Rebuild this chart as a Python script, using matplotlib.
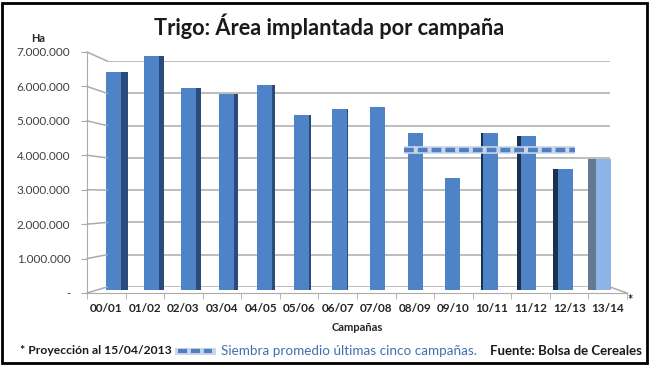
import numpy as np
import matplotlib
matplotlib.use("Agg")
import matplotlib.pyplot as plt
from matplotlib.lines import Line2D
from matplotlib.patches import Rectangle
from matplotlib.ticker import FuncFormatter, MultipleLocator

plt.rcParams['font.family'] = ['Lato', 'DejaVu Sans']

# --- data (hectareas sembradas por campaña) ---
campanas = ['00/01', '01/02', '02/03', '03/04', '04/05', '05/06', '06/07',
            '07/08', '08/09', '09/10', '10/11', '11/12', '12/13', '13/14']
area_ha = [6530000, 7070000, 6050000, 5870000, 6140000, 5240000, 5420000,
           5480000, 4710000, 3350000, 4700000, 4610000, 3620000, 3920000]
ultimas_cinco = campanas[8:13]
promedio = np.mean(area_ha[8:13])

W, H = 650, 366
fig = plt.figure(figsize=(6.5, 3.66), dpi=100)


def px(x0, y0, x1, y1):
    # box in pixel coords (top-left origin) -> figure fraction
    return [x0 / W, 1 - y1 / H, (x1 - x0) / W, (y1 - y0) / H]


grid_col = '#ABABAB'
ymax = 7000000
x = np.arange(len(campanas))

# back wall with gridlines
ax_back = fig.add_axes(px(107, 61, 610, 287))
ax_back.set_xlim(0, 1)
ax_back.set_ylim(0, ymax)
for v in range(0, ymax + 1, 1000000):
    ax_back.axhline(v, color=grid_col, lw=1.1)
ax_back.axis('off')

# front value axis (ticks + labels)
ax_front = fig.add_axes(px(87, 52, 88, 293))
ax_front.set_ylim(0, ymax)
ax_front.set_xlim(0, 1)
for s in ['top', 'right', 'bottom']:
    ax_front.spines[s].set_visible(False)
ax_front.spines['left'].set_color(grid_col)
ax_front.set_xticks([])
ax_front.yaxis.set_major_locator(MultipleLocator(1000000))
ax_front.yaxis.set_major_formatter(FuncFormatter(
    lambda v, p: '-' if v == 0 else f'{int(v):,}'.replace(',', '.')))
ax_front.tick_params(axis='y', length=4, color=grid_col, labelsize=8.5,
                     labelcolor='#404040', pad=8)
ax_front.patch.set_alpha(0)

# left wall diagonals from front axis to back wall
to_fig = fig.transFigure.inverted()
fig.canvas.draw()
for v in range(0, ymax + 1, 1000000):
    p0 = to_fig.transform(ax_front.transData.transform((0, v)))
    p1 = to_fig.transform(ax_back.transData.transform((0, v)))
    fig.add_artist(Line2D([p0[0], p1[0]], [p0[1], p1[1]], color=grid_col,
                          lw=1.1, transform=fig.transFigure))

# floor / category axis
ax_floor = fig.add_axes(px(87, 280, 627, 293))
ax_floor.set_xlim(-0.5, len(campanas) - 0.5)
ax_floor.set_ylim(0, 1)
for s in ['top', 'right', 'left']:
    ax_floor.spines[s].set_visible(False)
ax_floor.spines['bottom'].set_color(grid_col)
ax_floor.set_yticks([])
ax_floor.set_xticks(x)
ax_floor.set_xticklabels(campanas, fontsize=8.5, fontweight='bold', color='#262626')
ax_floor.set_xticks(np.arange(-0.5, len(campanas)), minor=True)
ax_floor.tick_params(axis='x', which='major', length=0, pad=7)
ax_floor.tick_params(axis='x', which='minor', length=4, color=grid_col)
ax_floor.patch.set_alpha(0)
ax_floor.text(len(campanas) - 0.5 + 0.02, -0.55, '*', fontsize=9, fontweight='bold',
              color='#262626', ha='left', va='center')
ax_floor.set_xlabel('Campañas', fontsize=8, fontweight='bold', color='#262626',
                    labelpad=6)
# right side of the floor
p0 = to_fig.transform(ax_back.transData.transform((1, 0)))
p1 = to_fig.transform(ax_floor.transData.transform((len(campanas) - 0.5, 0)))
fig.add_artist(Line2D([p0[0], p1[0]], [p0[1], p1[1]], color=grid_col, lw=1.1,
                      transform=fig.transFigure))

# bars (pseudo 3D: front face + side face)
ax_bar = fig.add_axes(px(94.65, 56.2, 622.35, 290))
ax_bar.set_xlim(-0.5, len(campanas) - 0.5)
ax_bar.set_ylim(0, ymax)
ax_bar.axis('off')
bw = 0.4
front_col = ['#4F83C8'] * 13 + ['#8CB4E6']
right_w = np.clip((7 - x) * 0.025, 0, None)
left_w = np.clip((x - 9) * 0.05, 0, None)
side_col = ['#2B4C7A'] * 10 + ['#1C3150'] * 3 + ['#647A93']
ax_bar.bar(x, area_ha, width=bw, color=front_col, zorder=2)
ax_bar.bar(x + bw / 2, area_ha, width=right_w, align='edge', color=side_col, zorder=1)
ax_bar.bar(x - bw / 2, area_ha, width=-left_w, align='edge', color=side_col, zorder=1)

# average of the last five campaigns
i0 = campanas.index(ultimas_cinco[0])
i1 = campanas.index(ultimas_cinco[-1])
ax_bar.hlines(promedio, i0 - 0.3, i1 + 0.25, colors='#C9D6E8', lw=5.5, zorder=3)
ax_bar.hlines(promedio, i0 - 0.3, i1 + 0.25, colors='#4F7FC2', lw=3.2,
              linestyles=(0, (2.2, 0.9)), zorder=4)

# titles and notes
fig.text(329 / W, 1 - 26 / H, 'Trigo: Área implantada por campaña', fontsize=15.7,
         fontweight='bold', ha='center', va='center', color='#1a1a1a')
fig.text(38 / W, 1 - 38 / H, 'Ha', fontsize=7.8, fontweight='bold', ha='center',
         va='center', color='#262626')
fig.text(20 / W, 1 - 351 / H, '* Proyección al 15/04/2013', fontsize=8.7,
         fontweight='bold', ha='left', va='center', color='#1a1a1a')
fig.add_artist(Line2D([178 / W, 212 / W], [1 - 351 / H] * 2, color='#C9D6E8', lw=5,
                      transform=fig.transFigure))
fig.add_artist(Line2D([178 / W, 212 / W], [1 - 351 / H] * 2, color='#4F7FC2', lw=3,
                      ls=(0, (2.2, 0.9)), transform=fig.transFigure))
fig.text(221 / W, 1 - 351 / H, 'Siembra promedio últimas cinco campañas.',
         fontsize=9.7, ha='left', va='center', color='#3F6FB0')
fig.text(642 / W, 1 - 351 / H, 'Fuente: Bolsa de Cereales', fontsize=9.5,
         fontweight='bold', ha='right', va='center', color='#1a1a1a')

fig.add_artist(Rectangle((2 / W, 3 / H), 645 / W, 360 / H, fill=False, lw=2,
                         edgecolor='black', transform=fig.transFigure))

fig.savefig('out.png', dpi=100)
